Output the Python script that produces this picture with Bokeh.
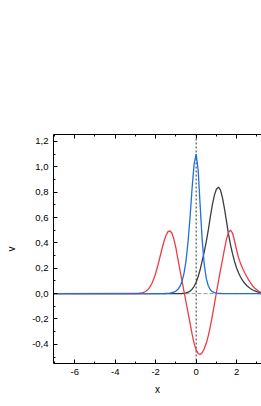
from bokeh.plotting import figure
from bokeh.models import Range1d, LinearAxis, FixedTicker, Span
from bokeh.embed import file_html
from bokeh.resources import INLINE

# ---- data ----
x = [-7.2,
     -3.0, -2.9, -2.8, -2.7, -2.6, -2.5, -2.4, -2.3, -2.2, -2.1,
     -2.0, -1.9, -1.8, -1.7, -1.6, -1.5, -1.4, -1.3, -1.2, -1.1,
     -1.0, -0.9, -0.8, -0.7, -0.6, -0.5, -0.4, -0.3, -0.2, -0.1,
     0.0, 0.1, 0.2, 0.3, 0.4, 0.5, 0.6, 0.7, 0.8, 0.9,
     1.0, 1.1, 1.2, 1.3, 1.4, 1.5, 1.6, 1.7, 1.8, 1.9,
     2.0, 2.1, 2.2, 2.3, 2.4, 2.5, 2.6, 2.7, 2.8, 2.9,
     3.0, 3.1, 3.2, 3.4]

blue = [0.0,
        0.0, 0.0, 0.0, 0.0, 0.0, 0.0, 0.0, 0.0, 0.0, 0.0,
        0.0, 0.0, 0.0, 0.0, 0.0, 0.001, 0.002, 0.004, 0.007, 0.011,
        0.020, 0.034, 0.057, 0.096, 0.160, 0.259, 0.409, 0.605, 0.832, 1.023,
        1.100, 0.975, 0.690, 0.420, 0.230, 0.120, 0.062, 0.031, 0.016, 0.008,
        0.004, 0.002, 0.001, 0.0, 0.0, 0.0, 0.0, 0.0, 0.0, 0.0,
        0.0, 0.0, 0.0, 0.0, 0.0, 0.0, 0.0, 0.0, 0.0, 0.0,
        0.0, 0.0, 0.0, 0.0]

black = [0.0,
         0.0, 0.0, 0.0, 0.0, 0.0, 0.0, 0.0, 0.0, 0.0, 0.0,
         0.0, 0.0, 0.0, 0.0, 0.0, 0.0, 0.0, 0.0, 0.0, 0.0,
         0.0, 0.0, 0.0, 0.001, 0.003, 0.006, 0.011, 0.020, 0.035, 0.058,
         0.090, 0.135, 0.190, 0.260, 0.330, 0.410, 0.500, 0.605, 0.700, 0.775,
         0.823, 0.840, 0.818, 0.757, 0.670, 0.570, 0.470, 0.385, 0.313, 0.252,
         0.202, 0.162, 0.129, 0.103, 0.082, 0.064, 0.050, 0.039, 0.029, 0.021,
         0.015, 0.010, 0.007, 0.003]

red = [0.0,
       0.001, 0.001, 0.003, 0.005, 0.010, 0.017, 0.030, 0.049, 0.076, 0.113,
       0.161, 0.218, 0.281, 0.346, 0.407, 0.455, 0.487, 0.496, 0.478, 0.430,
       0.360, 0.272, 0.186, 0.102, 0.018, -0.066, -0.150, -0.234, -0.320, -0.393,
       -0.444, -0.473, -0.480, -0.466, -0.435, -0.392, -0.333, -0.260, -0.175, -0.085,
       0.006, 0.095, 0.183, 0.264, 0.351, 0.430, 0.483, 0.500, 0.478, 0.415,
       0.343, 0.282, 0.235, 0.198, 0.165, 0.135, 0.107, 0.082, 0.060, 0.043,
       0.030, 0.018, 0.010, 0.003]

x_ticks = [-6, -4, -2, 0, 2]
x_minor = [-7, -5, -3, -1, 1, 3]
x_tick_labels = ["-6", "-4", "-2", "0", "2"]
y_ticks = [-0.4, -0.2, 0.0, 0.2, 0.4, 0.6, 0.8, 1.0, 1.2]
y_minor = [-0.5, -0.3, -0.1, 0.1, 0.3, 0.5, 0.7, 0.9, 1.1]
y_tick_labels = ["-0,4", "-0,2", "0,0", "0,2", "0,4", "0,6", "0,8", "1,0", "1,2"]

FONT = "Liberation Sans"

p = figure(width=261, height=398,
           x_range=Range1d(-7.05, 3.23), y_range=Range1d(-0.551, 1.255),
           output_backend="svg", toolbar_location=None,
           min_border_left=53, min_border_right=0,
           min_border_top=134, min_border_bottom=35)
p.outline_line_color = None
p.grid.visible = False
p.background_fill_color = "white"

p.xaxis.ticker = FixedTicker(ticks=x_ticks, minor_ticks=x_minor)
p.yaxis.ticker = FixedTicker(ticks=y_ticks, minor_ticks=y_minor)
p.xaxis.major_label_overrides = {t: l for t, l in zip(x_ticks, x_tick_labels)}
p.yaxis.major_label_overrides = {t: l for t, l in zip(y_ticks, y_tick_labels)}
p.xaxis.axis_label = "x"
p.yaxis.axis_label = "v"

for ax in p.axis:
    ax.major_tick_in = 4
    ax.major_tick_out = 0
    ax.minor_tick_in = 2
    ax.minor_tick_out = 0
    ax.axis_line_color = "black"
    ax.major_tick_line_color = "black"
    ax.minor_tick_line_color = "black"
    ax.axis_line_width = 1
    ax.major_label_text_font = FONT
    ax.major_label_text_font_size = "9.5px"
    ax.major_label_text_color = "black"
    ax.axis_label_text_font = FONT
    ax.axis_label_text_font_style = "normal"
    ax.axis_label_text_font_size = "10px"
    ax.axis_label_text_color = "black"
    ax.major_label_standoff = 5
p.yaxis.axis_label_standoff = 12
p.xaxis.axis_label_standoff = 6

top = LinearAxis(ticker=FixedTicker(ticks=x_ticks, minor_ticks=x_minor),
                 major_label_text_font_size="0px", major_label_text_color=None,
                 major_label_standoff=0,
                 major_tick_in=4, major_tick_out=0,
                 minor_tick_in=2, minor_tick_out=0,
                 axis_line_color="black", major_tick_line_color="black",
                 minor_tick_line_color="black")
p.add_layout(top, "above")

p.add_layout(Span(location=0, dimension="width", line_color="#9a9a9a",
                  line_dash="4 2", line_width=1, level="underlay"))
p.add_layout(Span(location=0, dimension="height", line_color="#333333",
                  line_dash="2 2", line_width=1, level="underlay"))

p.line(x, black, line_color="#3c3c3c", line_width=1.3)
p.line(x, red, line_color="#ee3b45", line_width=1.3)
p.line(x, blue, line_color="#1f6fdc", line_width=1.3)

open("out.html", "w").write(file_html(p, INLINE))
